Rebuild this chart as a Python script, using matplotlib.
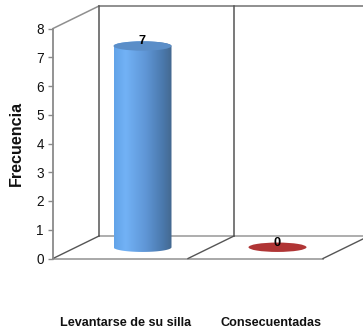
import numpy as np
import matplotlib
matplotlib.use("Agg")
import matplotlib.pyplot as plt
from matplotlib.colors import LinearSegmentedColormap
from matplotlib.patches import Ellipse, Polygon

plt.rcParams['font.family'] = ['Liberation Sans', 'DejaVu Sans']

categories = ['Levantarse de su silla', 'Consecuentadas']
values = [7, 0]
yticks = [0, 1, 2, 3, 4, 5, 6, 7, 8]
ylabel = 'Frecuencia'

W, H = 363, 331
X0, Y0 = 53, 258.5      # pixel of the front-left origin
UX, UY = 135.0, 28.75   # pixels per category / per unit
DX, DY = 46 / UX, 22.5 / UY   # depth offset in data units
BAR_W = 58 / UX
ELL_H = 9.4 / UY

fig = plt.figure(figsize=(W / 100, H / 100), dpi=100, facecolor='white')
ax = fig.add_axes([0, 0, 1, 1])
ax.set_xlim(-X0 / UX, (W - X0) / UX)
ax.set_ylim(-(H - Y0) / UY, Y0 / UY)
for s in ['top', 'right', 'bottom']:
    ax.spines[s].set_visible(False)
ax.spines['left'].set_position(('data', 0))
ax.spines['left'].set_bounds(0, yticks[-1])
ax.spines['left'].set_color('#8a8a8a')
ax.spines['left'].set_linewidth(1.3)
ax.set_xticks([])
ax.set_yticks(yticks)
ax.tick_params(axis='y', length=3.5, width=1, color='#8a8a8a', pad=3,
               labelsize=9.8, labelcolor='#111111')
ax.patch.set_alpha(0)

ymax = yticks[-1]
n = len(categories)
dark, grey = '#555555', '#8f8f8f'
# walls and floor
ax.plot([0, DX], [ymax, ymax + DY], color=grey, lw=1.1)
ax.plot([DX, W], [ymax + DY, ymax + DY], color=grey, lw=1.4)
ax.plot([DX, W], [DY, DY], color='#a0a0a0', lw=1.2)
ax.plot([0, n], [0, 0], color='#a8a8a8', lw=1.4)
for i in range(n + 1):
    ax.plot([i, i + DX], [0, DY], color=dark, lw=1.0)
for i in range(n):
    ax.plot([i + DX, i + DX], [DY, ymax + DY], color=dark, lw=1.1)

# cylinders
cmap = LinearSegmentedColormap.from_list(
    'cyl', [(0, '#62a3e8'), (0.2, '#72b2f6'), (0.55, '#5f96d6'),
            (0.85, '#4a78ab'), (1, '#44688f')])
bar_top_colors = ['#5b8ec8', '#b03535']
for i, v in enumerate(values):
    cx = i + 0.5 + DX / 2 - 1 / UX
    cy = DY / 2
    t = np.linspace(0, np.pi, 60)
    if v > 0:
        top = np.column_stack([cx + BAR_W / 2 * np.cos(t), v + cy + ELL_H / 2 * np.sin(t)])
        bot = np.column_stack([cx - BAR_W / 2 * np.cos(t), cy - ELL_H / 2 * np.sin(t)])
        poly = Polygon(np.vstack([top, bot]), closed=True, transform=ax.transData,
                       facecolor='none', edgecolor='none')
        ax.add_patch(poly)
        im = ax.imshow(np.linspace(0, 1, 256)[None, :], cmap=cmap, aspect='auto',
                       extent=[cx - BAR_W / 2, cx + BAR_W / 2, cy - ELL_H, v + cy + ELL_H],
                       zorder=3)
        im.set_clip_path(poly)
    ax.add_patch(Ellipse((cx, v + cy), BAR_W, ELL_H, facecolor=bar_top_colors[i],
                         edgecolor='none', zorder=4))
    ax.annotate(str(v), (cx, v + cy), xytext=(-0.4, 3.4), textcoords='offset points',
                ha='center', va='center', fontsize=9.3, fontweight='bold',
                color='black', zorder=5)

ax.set_xlim(-X0 / UX, (W - X0) / UX)
ax.set_ylim(-(H - Y0) / UY, Y0 / UY)

# category labels
label_dx = [5.5, 15.5]
for i, c in enumerate(categories):
    ax.annotate(c, (i + 0.5, 0), xytext=(label_dx[i] * 0.72, -46.3), textcoords='offset points',
                ha='center', va='center', fontsize=9.05, fontweight='bold', color='#111111')

ax.text(16 / W, 1 - 143 / H, ylabel, transform=ax.transAxes, rotation=90, ha='center',
        va='center', fontsize=11.6, fontweight='bold', color='#111111')

fig.savefig('out.png', dpi=100, facecolor='white')
